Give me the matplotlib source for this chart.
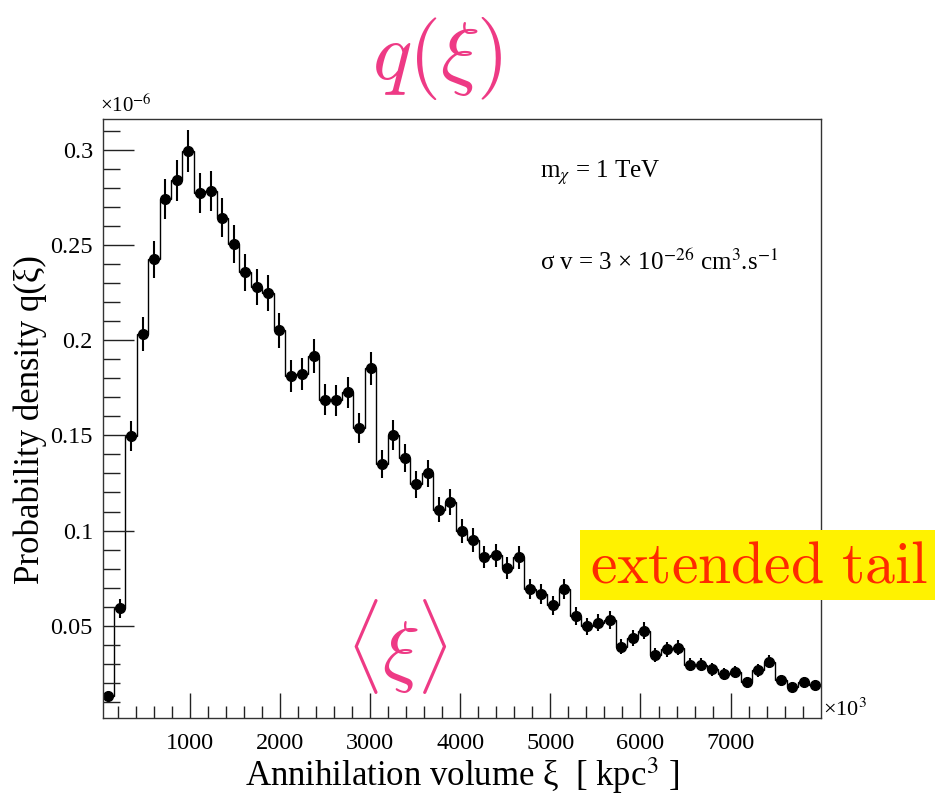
#!/usr/bin/env python3

import numpy as np
import matplotlib
matplotlib.use("Agg")
import matplotlib.pyplot as plt
from matplotlib.patches import Rectangle

# histogram range (x in units of 10^3 kpc^3) and bin contents (units of 10^-6)
x_min, x_max = 31.5, 8000.0
q_vals = [0.0131, 0.0591, 0.1496, 0.2032, 0.2424, 0.2739, 0.2839, 0.2992, 0.2773, 0.2785,
          0.2643, 0.2503, 0.2356, 0.2280, 0.2246, 0.2051, 0.1811, 0.1822, 0.1917, 0.1687,
          0.1684, 0.1726, 0.1540, 0.1853, 0.1351, 0.1502, 0.1382, 0.1243, 0.1300, 0.1110,
          0.1150, 0.0996, 0.0949, 0.0861, 0.0870, 0.0805, 0.0859, 0.0694, 0.0665, 0.0607,
          0.0694, 0.0552, 0.0497, 0.0517, 0.0530, 0.0389, 0.0434, 0.0474, 0.0348, 0.0376,
          0.0384, 0.0294, 0.0294, 0.0271, 0.0245, 0.0258, 0.0203, 0.0266, 0.0311, 0.0213,
          0.0178, 0.0204, 0.0189]
q_errs = [0.0023, 0.0049, 0.0077, 0.0090, 0.0098, 0.0105, 0.0107, 0.0110, 0.0105, 0.0106,
          0.0103, 0.0100, 0.0097, 0.0096, 0.0095, 0.0091, 0.0085, 0.0085, 0.0088, 0.0082,
          0.0082, 0.0083, 0.0078, 0.0086, 0.0074, 0.0078, 0.0074, 0.0071, 0.0072, 0.0067,
          0.0068, 0.0063, 0.0062, 0.0059, 0.0059, 0.0057, 0.0059, 0.0053, 0.0052, 0.0049,
          0.0053, 0.0047, 0.0045, 0.0045, 0.0046, 0.0039, 0.0042, 0.0044, 0.0037, 0.0039,
          0.0039, 0.0034, 0.0034, 0.0033, 0.0031, 0.0032, 0.0028, 0.0033, 0.0035, 0.0029,
          0.0027, 0.0029, 0.0027]
x_ticks = [1000, 2000, 3000, 4000, 5000, 6000, 7000]
y_ticks = [0.05, 0.1, 0.15, 0.2, 0.25, 0.3]
y_tick_labels = ["0.05", "0.1", "0.15", "0.2", "0.25", "0.3"]

pink = "#EE3A85"
serif = "Liberation Serif"

if __name__ == "__main__":
    W, H = 938, 801
    fig = plt.figure(figsize=(W / 100, H / 100), dpi=100)
    fig.patch.set_facecolor("white")

    def fx(px):
        return px / W

    def fy(py):
        return 1 - py / H

    ax = fig.add_axes([fx(102.7), fy(717.7), (820.7 - 102.7) / W, (717.7 - 119.3) / H])

    edges = np.linspace(x_min, x_max, len(q_vals) + 1)
    centers = 0.5 * (edges[:-1] + edges[1:])
    ax.stairs(q_vals, edges, baseline=None, color="black", lw=1.0)
    ax.errorbar(centers, q_vals, yerr=q_errs, fmt="o", color="black", ms=7,
                elinewidth=1.5, capsize=0)

    ax.set_xlim(x_min, x_max)
    ax.set_ylim(0.0017, 0.316)

    ax.set_xticks(x_ticks)
    ax.set_xticklabels([str(t) for t in x_ticks])
    ax.set_xticks(np.arange(200, 8000, 200), minor=True)
    ax.set_yticks(y_ticks)
    ax.set_yticklabels(y_tick_labels)
    ax.set_yticks(np.arange(0.01, 0.316, 0.01), minor=True)

    ax.tick_params(axis="both", which="both", direction="in", top=False, right=False,
                   color="#222222", width=1.0)
    ax.tick_params(axis="x", which="major", length=18, pad=11)
    ax.tick_params(axis="x", which="minor", length=9)
    ax.tick_params(axis="y", which="major", length=22, pad=7)
    ax.tick_params(axis="y", which="minor", length=12)
    for lab in ax.get_xticklabels() + ax.get_yticklabels():
        lab.set_fontfamily(serif)
        lab.set_fontsize(17.5)
    for sp in ax.spines.values():
        sp.set_linewidth(1.0)
        sp.set_color("#333333")

    # axis titles
    fig.text(fx(462), fy(776), "Annihilation volume ξ  [ kpc$^{3}$ ]", family=serif,
             fontsize=25, ha="center", va="center", math_fontfamily="stix")
    fig.text(fx(30), fy(420), "Probability density q(ξ)", family=serif, fontsize=25,
             rotation=90, ha="center", va="center")

    # exponent labels
    fig.text(fx(100), fy(117), "×10$^{-6}$", family=serif, fontsize=15,
             ha="left", va="bottom", math_fontfamily="stix")
    fig.text(fx(823), fy(710), "×10$^{3}$", family=serif, fontsize=16,
             ha="left", va="center", math_fontfamily="stix")

    # parameter labels
    fig.text(fx(540), fy(173), "m$_{\\chi}$ = 1 TeV", family=serif, fontsize=18,
             ha="left", va="center", math_fontfamily="stix")
    fig.text(fx(540), fy(262), "σ v = 3 × 10$^{-26}$ cm$^{3}$.s$^{-1}$", family=serif,
             fontsize=18, ha="left", va="center", math_fontfamily="stix")

    # pink annotations
    fig.text(fx(437), fy(58), r"$q(\xi)$", color=pink, fontsize=59, ha="center",
             va="center", math_fontfamily="cm")
    fig.text(fx(397), fy(646), r"$\langle\xi\rangle$", color=pink, fontsize=56,
             ha="center", va="center", math_fontfamily="cm")

    # highlighted tail label
    box = Rectangle((fx(580), fy(600)), 355 / W, 70 / H, transform=fig.transFigure,
                    facecolor="#FFF200", edgecolor="none", zorder=5)
    fig.add_artist(box)
    t = fig.text(fx(759), fy(566), r"$\mathrm{extended\ tail}$", color="#FF2A00",
                 fontsize=43, ha="center", va="center", math_fontfamily="cm")
    t.set_zorder(6)

    plt.savefig("out.png", dpi=100)
